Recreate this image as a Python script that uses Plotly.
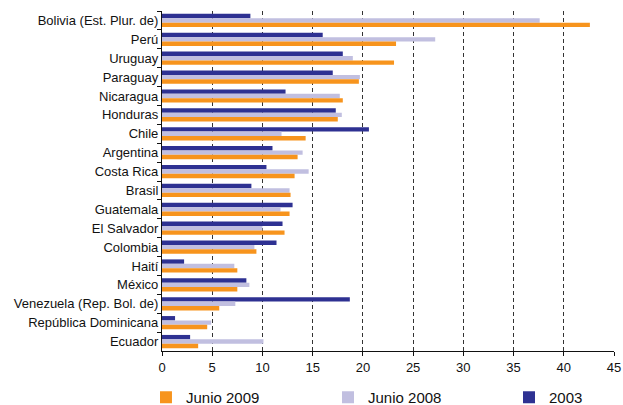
import plotly.graph_objects as go

countries = ["Bolivia (Est. Plur. de)", "Perú", "Uruguay", "Paraguay", "Nicaragua",
             "Honduras", "Chile", "Argentina", "Costa Rica", "Brasil", "Guatemala",
             "El Salvador", "Colombia", "Haití", "México", "Venezuela (Rep. Bol. de)",
             "República Dominicana", "Ecuador"]
v2003 = [8.8, 16.0, 18.0, 17.0, 12.3, 17.3, 20.6, 11.0, 10.4, 8.9, 13.0, 12.0, 11.4,
         2.2, 8.4, 18.7, 1.3, 2.8]
v2008 = [37.6, 27.2, 19.0, 19.7, 17.7, 17.9, 11.9, 14.0, 14.6, 12.7, 11.8, 10.0, 9.2,
         7.2, 8.7, 7.3, 4.9, 10.1]
v2009 = [42.6, 23.3, 23.1, 19.6, 18.0, 17.5, 14.3, 13.5, 13.2, 12.8, 12.7, 12.2, 9.4,
         7.5, 7.5, 5.7, 4.5, 3.6]
x_ticks = [0, 5, 10, 15, 20, 25, 30, 35, 40, 45]

FONT = "Liberation Sans, Arial, Helvetica, sans-serif"

fig = go.Figure()
fig.add_trace(go.Bar(y=countries, x=v2003, orientation="h", name="2003",
                     marker=dict(color="#2E3192", line=dict(width=0)), legend="legend3"))
fig.add_trace(go.Bar(y=countries, x=v2008, orientation="h", name="Junio 2008",
                     marker=dict(color="#C1BFE0", line=dict(width=0)), legend="legend2"))
fig.add_trace(go.Bar(y=countries, x=v2009, orientation="h", name="Junio 2009",
                     marker=dict(color="#F7941D", line=dict(width=0)), legend="legend"))

def leg(xpos):
    return dict(orientation="h", x=xpos, xref="container", xanchor="left",
                y=0.0185, yref="container", yanchor="middle",
                font=dict(family=FONT, size=15, color="#111"),
                bgcolor="rgba(0,0,0,0)", itemclick=False)

fig.update_layout(
    width=623, height=405,
    margin=dict(l=162, r=9, t=11, b=54, autoexpand=False),
    paper_bgcolor="white", plot_bgcolor="white",
    barmode="group", bargap=0.3, bargroupgap=0,
    font=dict(family=FONT, size=13, color="#111"),
    showlegend=True,
    legend=leg(0.2343), legend2=leg(0.5265), legend3=leg(0.817),
    xaxis=dict(range=[0, 45], tickvals=x_ticks, ticktext=[str(t) for t in x_ticks],
               showgrid=True, griddash="4px,3px", gridcolor="#333", gridwidth=1,
               showline=True, linecolor="#111", linewidth=1.2,
               ticks="outside", ticklen=4, tickcolor="#111",
               zeroline=False, tickfont=dict(size=13), automargin=False,
               ticklabeloverflow="allow"),
    yaxis=dict(autorange="reversed", showline=True, linecolor="#111", linewidth=1.2,
               ticks="outside", ticklen=4, tickcolor="#111", tickson="boundaries",
               showgrid=False, tickfont=dict(size=13), automargin=False),
)

fig.write_html("out.html", config={"displayModeBar": False},
               post_script="document.body.style.margin='0';")
